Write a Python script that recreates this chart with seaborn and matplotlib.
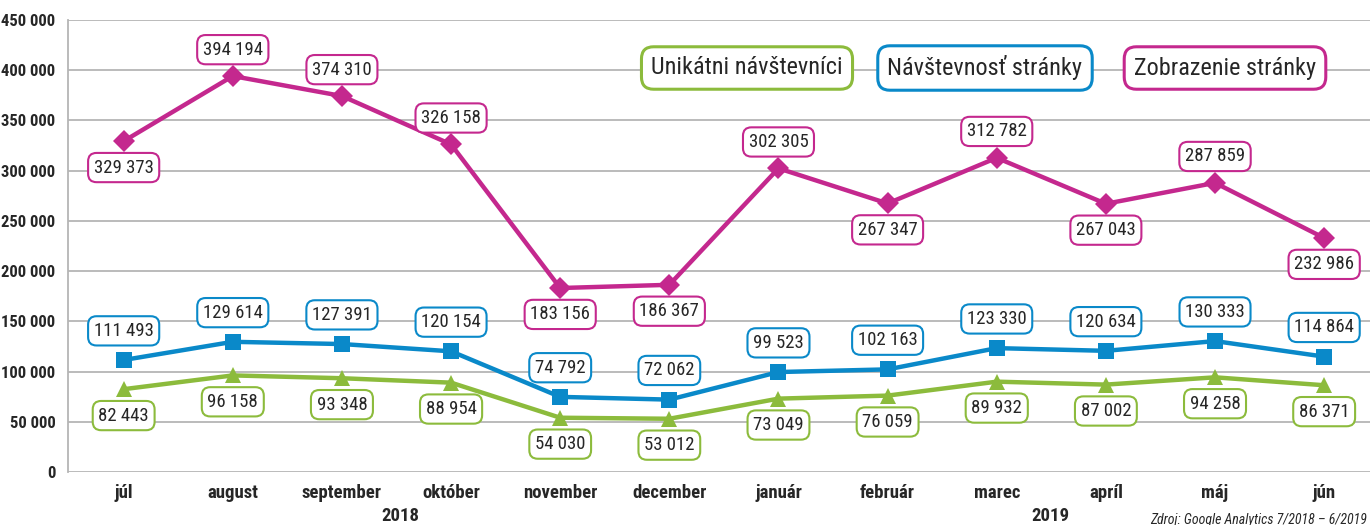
import matplotlib
matplotlib.use("Agg")
import matplotlib.pyplot as plt
import seaborn as sns
import pandas as pd
from matplotlib import font_manager

months = ["júl", "august", "september", "október", "november", "december",
          "január", "február", "marec", "apríl", "máj", "jún"]
unikatni = [82443, 96158, 93348, 88954, 54030, 53012, 73049, 76059, 89932, 87002, 94258, 86371]
navstevnost = [111493, 129614, 127391, 120154, 74792, 72062, 99523, 102163, 123330, 120634, 130333, 114864]
zobrazenie = [329373, 394194, 374310, 326158, 183156, 186367, 302305, 267347, 312782, 267043, 287859, 232986]
series_names = ["Unikátni návštevníci", "Návštevnosť stránky", "Zobrazenie stránky"]
yticks = [0, 50000, 100000, 150000, 200000, 250000, 300000, 350000, 400000, 450000]
years = ["2018", "2019"]
source = "Zdroj: Google Analytics 7/2018 – 6/2019"

# label placement: +1 above, -1 below
zob_pos = [-1, 1, 1, 1, -1, -1, 1, -1, 1, -1, 1, -1]

GREEN = "#8cbb3c"
BLUE = "#0a89c9"
MAGENTA = "#c4288e"

avail = {f.name for f in font_manager.fontManager.ttflist}
for cand in ["Roboto Condensed", "Liberation Sans Narrow", "Roboto", "Liberation Sans"]:
    if cand in avail:
        FONT = cand
        break
else:
    FONT = "DejaVu Sans"

sns.set_style("white")
plt.rcParams["font.family"] = [FONT, "DejaVu Sans"]

def fmt(v):
    return f"{v:,}".replace(",", " ")

fig = plt.figure(figsize=(13.7, 5.25), dpi=100)
ax = fig.add_axes([68/1370, 53/525, (1370-68)/1370, (472-20)/525])

df = pd.DataFrame({"x": list(range(12)) * 3,
                   "value": unikatni + navstevnost + zobrazenie,
                   "series": [series_names[0]] * 12 + [series_names[1]] * 12 + [series_names[2]] * 12})

sns.lineplot(data=df, x="x", y="value", hue="series", style="series",
             palette=[GREEN, BLUE, MAGENTA],
             markers=["^", "s", "D"], dashes=False, linewidth=3.2,
             markersize=11, markeredgewidth=0, legend=False, ax=ax)

ax.set_xlim(-0.51, 11.42)
ax.set_ylim(0, 450000)
ax.set_yticks(yticks)
ax.set_yticklabels([fmt(t) for t in yticks], fontweight="bold", fontsize=12)
ax.set_xticks(range(12))
ax.set_xticklabels(months, fontweight="bold", fontsize=13.5)
ax.tick_params(axis="both", length=0)
ax.tick_params(axis="y", pad=9)
ax.tick_params(axis="x", pad=9)
ax.set_xlabel("")
ax.set_ylabel("")
ax.grid(axis="y", color="#b5b5b5", linewidth=1.3)
ax.set_axisbelow(True)
for s in ["top", "right", "bottom"]:
    ax.spines[s].set_visible(False)
ax.spines["left"].set_color("#b5b5b5")
ax.spines["left"].set_linewidth(1.3)

def label(x, y, txt, color, off):
    ax.annotate(txt, (x, y), xytext=(0, off), textcoords="offset points",
                ha="center", va="center", fontsize=13.5, zorder=5,
                bbox=dict(boxstyle="round,pad=0.3,rounding_size=0.45",
                          fc="white", ec=color, lw=1.5))

for i in range(12):
    label(i, unikatni[i], fmt(unikatni[i]), GREEN, -19)
    label(i, navstevnost[i], fmt(navstevnost[i]), BLUE, 21)
    label(i, zobrazenie[i], fmt(zobrazenie[i]), MAGENTA, 19 * zob_pos[i])

# legend boxes
for name, col, xc in zip(series_names, [GREEN, BLUE, MAGENTA], [747, 985, 1225]):
    fig.text(xc/1370, 1 - 68/525, name, ha="center", va="center", fontsize=17.5,
             bbox=dict(boxstyle="round,pad=0.4,rounding_size=0.5",
                       fc="white", ec=col, lw=2.2))

fig.text(400/1370, 1 - 516/525, years[0], ha="center", va="center",
         fontweight="bold", fontsize=13.5)
fig.text(1050/1370, 1 - 516/525, years[1], ha="center", va="center",
         fontweight="bold", fontsize=13.5)
fig.text(1367/1370, 1 - 520/525, source, ha="right", va="center",
         fontstyle="italic", fontsize=10)

fig.savefig("out.png", dpi=100)
